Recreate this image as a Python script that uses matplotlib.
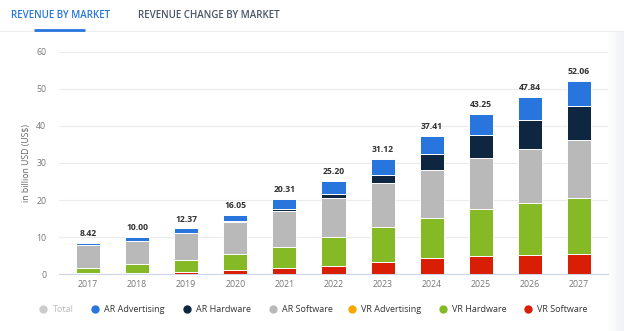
import matplotlib
matplotlib.use("Agg")
import matplotlib.pyplot as plt
from matplotlib.lines import Line2D
from matplotlib.colors import LinearSegmentedColormap
import numpy as np

plt.rcParams['font.family'] = ['Open Sans', 'DejaVu Sans']

years = ["2017", "2018", "2019", "2020", "2021", "2022", "2023", "2024", "2025", "2026", "2027"]
totals = [8.42, 10.00, 12.37, 16.05, 20.31, 25.20, 31.12, 37.41, 43.25, 47.84, 52.06]
vr_software = [0.4, 0.4, 0.7, 1.2, 1.6, 2.3, 3.4, 4.3, 4.9, 5.3, 5.5]
vr_hardware = [1.4, 2.3, 3.1, 4.2, 5.85, 7.8, 9.4, 10.9, 12.6, 13.9, 15.1]
vr_advertising = [0.0, 0.0, 0.0, 0.0, 0.0, 0.0, 0.0, 0.0, 0.0, 0.0, 0.0]
ar_software = [6.1, 6.2, 7.2, 8.6, 9.5, 10.5, 11.7, 13.0, 13.8, 14.7, 15.6]
ar_hardware = [0.05, 0.1, 0.1, 0.3, 0.6, 1.1, 2.3, 4.3, 6.3, 7.8, 9.2]
ar_advertising = [0.47, 1.0, 1.27, 1.75, 2.76, 3.5, 4.32, 4.91, 5.65, 6.14, 6.66]

series = [
    ("VR Software", vr_software, "#d81e05"),
    ("VR Hardware", vr_hardware, "#86b926"),
    ("VR Advertising", vr_advertising, "#f9a800"),
    ("AR Software", ar_software, "#b9b9b9"),
    ("AR Hardware", ar_hardware, "#0e2640"),
    ("AR Advertising", ar_advertising, "#2876dd"),
]

W, H = 624, 331
fig = plt.figure(figsize=(W / 100, H / 100), dpi=100)
fig.patch.set_facecolor("white")

def fx(px):
    return px / W

def fy(py):
    return 1 - py / H

# Right shadow
sh = fig.add_axes([fx(607), 0, fx(624) - fx(607), fy(31)])
grad = np.linspace(0, 1, 50).reshape(1, -1)
cm = LinearSegmentedColormap.from_list("s", ["#ffffff", "#f1f2f5"])
sh.imshow(grad, aspect="auto", cmap=cm, extent=[0, 1, 0, 1])
sh.axis("off")

ax = fig.add_axes([fx(59), fy(274.3), fx(608) - fx(59), fy(51.7) - fy(274.3)])
x = np.arange(len(years))
bottom = np.zeros(len(years))
for name, vals, col in series:
    vals = np.array(vals, dtype=float)
    colors = [col] * len(years)
    if name == "VR Software":
        colors[0] = "#eba5a5"
        colors[1] = "#eba5a5"
    ax.bar(x, vals, bottom=bottom, width=0.49, color=colors, edgecolor="white",
           linewidth=0.7, zorder=3)
    bottom += vals

for i, t in enumerate(totals):
    ax.annotate(f"{t:.2f}", (x[i], bottom[i]), xytext=(0, 3.5), textcoords="offset points",
                ha="center", va="bottom", fontsize=6.2, fontweight="bold", color="#333333",
                annotation_clip=False)

ax.set_xlim(-0.59, 10.59)
ax.set_ylim(0, 60)
ax.set_yticks([0, 10, 20, 30, 40, 50, 60])
ax.set_xticks(x)
ax.set_xticklabels(years)
ax.tick_params(axis="both", length=0, labelsize=6.3, labelcolor="#777777")
ax.tick_params(axis="y", pad=9)
ax.tick_params(axis="x", pad=4)
ax.grid(axis="y", color="#ebebeb", linewidth=0.8, zorder=0)
for s in ["top", "right", "left"]:
    ax.spines[s].set_visible(False)
ax.spines["bottom"].set_color("#ccd6eb")
ax.spines["bottom"].set_linewidth(0.8)
ax.set_facecolor("none")

fig.text(fx(27), fy(163), "in billion USD (US$)", rotation=90, ha="center", va="center",
         fontsize=6.3, color="#666666")

# Tabs
fig.text(fx(11), fy(15), "REVENUE BY MARKET", ha="left", va="center", fontsize=7.0,
         color="#2876dd", fontweight="semibold")
fig.text(fx(138), fy(15), "REVENUE CHANGE BY MARKET", ha="left", va="center", fontsize=7.0,
         color="#4a5568", fontweight="semibold")
fig.add_artist(Line2D([0, 1], [fy(30.5), fy(30.5)], transform=fig.transFigure,
                      color="#eeeeee", linewidth=0.8))
fig.add_artist(Line2D([fx(34), fx(85)], [fy(29.5), fy(29.5)], transform=fig.transFigure,
                      color="#2876dd", linewidth=2.0, solid_capstyle="butt"))

# Legend
legend_items = [
    ("Total", "#cccccc", 43.3, "#bbbbbb"),
    ("AR Advertising", "#2876dd", 95.3, "#333333"),
    ("AR Hardware", "#0e2640", 186.7, "#333333"),
    ("AR Software", "#b9b9b9", 272.7, "#333333"),
    ("VR Advertising", "#f9a800", 352, "#333333"),
    ("VR Hardware", "#86b926", 443.3, "#333333"),
    ("VR Software", "#d81e05", 528, "#333333"),
]
ly = 309
for label, col, px, tc in legend_items:
    fig.add_artist(Line2D([fx(px)], [fy(ly)], transform=fig.transFigure, marker="o",
                          markersize=5.0, markerfacecolor=col, markeredgecolor=col,
                          linestyle="none"))
    fig.text(fx(px + 9.2), fy(ly), label, ha="left", va="center", fontsize=6.5, color=tc)

fig.savefig("out.png", dpi=100, facecolor="white")
